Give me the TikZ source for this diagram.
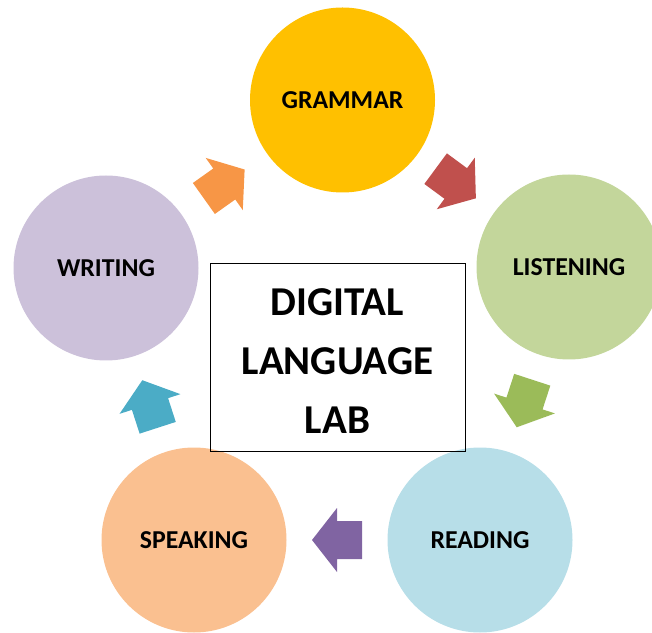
\documentclass[tikz,border=0pt]{standalone}
\usepackage{fontspec}
\setmainfont{Carlito}
\usetikzlibrary{calc}

\tikzset{
  circulo/.style={circle, minimum size=185pt, inner sep=0pt,
    font=\fontsize{25.8}{30}\selectfont\bfseries},
  caja/.style={draw, line width=1pt, minimum width=255pt, minimum height=188pt},
  textocaja/.style={align=center, inner sep=0pt, font=\fontsize{41}{59}\selectfont\bfseries},
}
% flecha gruesa entre dos nodos: desde, hasta, color
\newcommand{\flechabloque}[3]{%
  \pgfmathanglebetweenpoints{\pgfpointanchor{#1}{center}}{\pgfpointanchor{#2}{center}}%
  \let\angflecha\pgfmathresult
  \begin{scope}[shift={($(#1)!0.5!(#2)$)}, rotate=\angflecha]
    \fill[#3] (-25,-19) -- (0,-19) -- (0,-32) -- (25,0) -- (0,32) -- (0,19) -- (-25,19) -- cycle;
  \end{scope}}

\begin{document}
\begin{tikzpicture}[x=1pt,y=1pt]
        %colores
        \definecolor{cgram}{HTML}{FFC000}
        \definecolor{clist}{HTML}{C3D69B}
        \definecolor{cread}{HTML}{B7DEE8}
        \definecolor{chabl}{HTML}{FAC090}
        \definecolor{cescr}{HTML}{CCC1DA}
        \definecolor{fnar}{HTML}{F79646}
        \definecolor{froj}{HTML}{C0504D}
        \definecolor{fver}{HTML}{9BBB59}
        \definecolor{fmor}{HTML}{8064A2}
        \definecolor{fazu}{HTML}{4BACC6}
        \useasboundingbox (0,0) rectangle (652,632);

        % Circulos
        \foreach \nom/\x/\y/\col/\txt in {gram/342.5/532/cgram/GRAMMAR,
            list/569/365/clist/LISTENING, read/480/92/cread/READING,
            habl/194/92/chabl/SPEAKING, escr/106/364/cescr/WRITING}
            \node[circulo, fill=\col] (\nom) at (\x,\y) {\txt};

        % Caja central y su texto
        \node[caja] (lab) at (337.5,274.5) {};
        \node[textocaja, yshift=-4pt] (labtxt) at (lab.center) {DIGITAL\\LANGUAGE\\LAB};

        % Flechas del ciclo
        \flechabloque{escr}{gram}{fnar}
        \flechabloque{gram}{list}{froj}
        \flechabloque{list}{read}{fver}
        \flechabloque{read}{habl}{fmor}
        \flechabloque{habl}{escr}{fazu}
    \end{tikzpicture}
\end{document}
